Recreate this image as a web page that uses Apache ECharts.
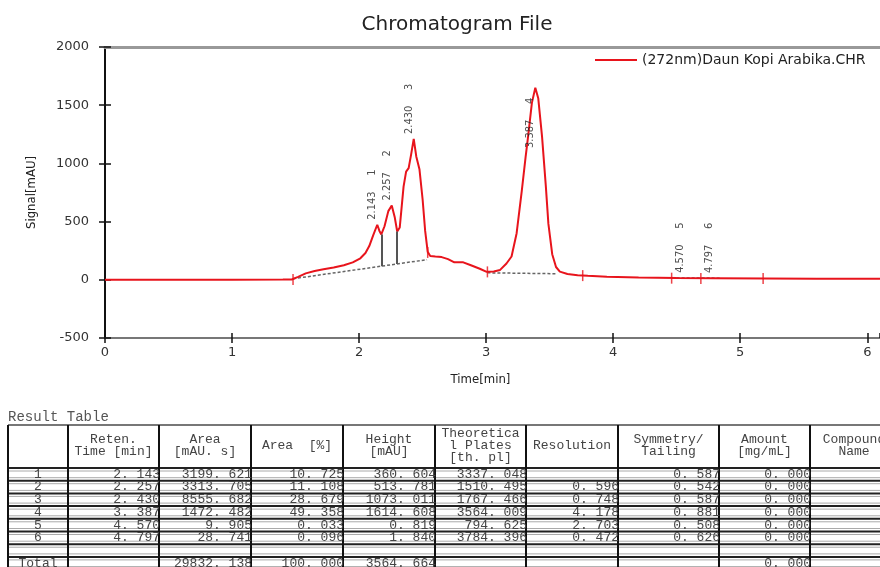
<!DOCTYPE html>
<html>
<head>
<meta charset="utf-8">
<title>Chromatogram File</title>
<script src="https://cdn.jsdelivr.net/npm/echarts@6/dist/echarts.min.js"></script>
<style>
  html, body { margin: 0; padding: 0; background: #fff; }
  #chart { width: 880px; height: 567px; }
</style>
</head>
<body>
<div id="chart"></div>
<script>
const traceName = '(272nm)Daun Kopi Arabika.CHR';

// signal trace: [time min, signal mAU]
const signal = [
  [0, 0], [0.5, 0], [1.0, 1], [1.40, 2], [1.47, 3],
  [1.52, 25], [1.58, 55], [1.65, 75], [1.72, 90], [1.80, 105], [1.88, 125],
  [1.95, 150], [2.01, 185], [2.05, 230], [2.08, 290], [2.11, 380], [2.143, 473],
  [2.16, 420], [2.175, 390], [2.20, 460], [2.23, 590], [2.257, 639], [2.28, 540],
  [2.30, 415], [2.32, 450], [2.35, 800], [2.37, 930], [2.39, 960], [2.41, 1080],
  [2.43, 1210], [2.45, 1060], [2.475, 950], [2.50, 690], [2.52, 420], [2.54, 240],
  [2.56, 205], [2.60, 200], [2.65, 195], [2.70, 178], [2.75, 150], [2.82, 150],
  [2.88, 125], [2.95, 95], [3.00, 70], [3.06, 72], [3.11, 85], [3.16, 140],
  [3.20, 200], [3.24, 400], [3.28, 760], [3.31, 1050], [3.33, 1230], [3.36, 1520],
  [3.387, 1650], [3.41, 1560], [3.44, 1230], [3.47, 800], [3.49, 480], [3.52, 220],
  [3.55, 110], [3.58, 70], [3.64, 50], [3.72, 40], [3.80, 35], [3.95, 26],
  [4.2, 20], [4.5, 16], [4.8, 14], [5.2, 12], [5.6, 10], [6.1, 8]
];

// integration baselines and peak split lines
const baseA = [[1.48, 9], [2.535, 173]];
const baseB = [[3.01, 60], [3.56, 52]];
const baseC = [[4.46, 17], [4.84, 14]];
const splits = [[[2.175, 117], [2.175, 390]], [[2.30, 136], [2.30, 415]]];
const eventMarks = [[1.48, 3], [2.54, 235], [3.01, 68], [3.76, 36], [4.46, 14], [4.69, 12], [5.18, 12]];

// peaks
const peakNo = ['1', '2', '3', '4', '5', '6'];
const peakRT = [2.143, 2.257, 2.430, 3.387, 4.570, 4.797];
const peakTop = [473, 639, 1210, 1650, 17, 15];

// result table
const tableHead = ['', 'Reten.\nTime [min]', 'Area\n[mAU. s]', 'Area  [%]', 'Height\n[mAU]',
  'Theoretica\nl Plates\n[th. pl]', 'Resolution', 'Symmetry/\nTailing', 'Amount\n[mg/mL]', 'Compound\nName'];
const rowNo = ['1', '2', '3', '4', '5', '6', 'Total'];
const retTime = ['2. 143', '2. 257', '2. 430', '3. 387', '4. 570', '4. 797', ''];
const area = ['3199. 621', '3313. 705', '8555. 682', '1472. 482', '9. 905', '28. 741', '29832. 138'];
const areaPct = ['10. 725', '11. 108', '28. 679', '49. 358', '0. 033', '0. 096', '100. 000'];
const height = ['360. 604', '513. 781', '1073. 011', '1614. 608', '0. 819', '1. 840', '3564. 664'];
const plates = ['3337. 048', '1510. 495', '1767. 466', '3564. 009', '794. 625', '3784. 396', ''];
const resolution = ['', '0. 596', '0. 748', '4. 178', '2. 703', '0. 472', ''];
const symmetry = ['0. 587', '0. 542', '0. 587', '0. 881', '0. 508', '0. 626', ''];
const amount = ['0. 000', '0. 000', '0. 000', '0. 000', '0. 000', '0. 000', '0. 000'];
const compound = ['', '', '', '', '', '', ''];

const tableCols = [rowNo, retTime, area, areaPct, height, plates, resolution, symmetry, amount, compound];

const colEdge = [8, 68, 159, 251, 343, 435, 526, 618, 719, 810, 900];
const tTop = 425, tHeadBottom = 468, rowH = 12.7;
const monoFont = '"Liberation Mono", "DejaVu Sans Mono", monospace';

// the total row sits one slot lower, below an empty row
const rowSlot = r => (r < rowNo.length - 1 ? r : r + 1);

const buildTable = () => {
  const g = [];
  g.push({ type: 'text', left: 8, top: 410, style: { text: 'Result Table', font: '14px ' + monoFont, fill: '#555' } });
  const slots = rowNo.length + 1;
  const bottom = tHeadBottom + rowH * slots;
  g.push({ type: 'line', shape: { x1: 8, y1: tTop, x2: 880, y2: tTop }, style: { stroke: '#777', lineWidth: 2 } });
  for (let r = 0; r <= slots; r++) {
    const y = tHeadBottom + r * rowH;
    g.push({ type: 'line', shape: { x1: 8, y1: y, x2: 880, y2: y }, style: { stroke: '#222', lineWidth: 2 } });
    if (r < slots) {
      g.push({ type: 'line', shape: { x1: 8, y1: y + 3, x2: 880, y2: y + 3 }, style: { stroke: '#aaa', lineWidth: 1 } });
    }
    if (r > 0) {
      g.push({ type: 'line', shape: { x1: 8, y1: y - 3, x2: 880, y2: y - 3 }, style: { stroke: '#aaa', lineWidth: 1 } });
    }
  }
  colEdge.slice(0, -1).forEach(x => {
    g.push({ type: 'line', shape: { x1: x, y1: tTop, x2: x, y2: bottom + 4 }, style: { stroke: '#111', lineWidth: 2 } });
  });
  tableHead.forEach((h, c) => {
    const cx = (colEdge[c] + colEdge[c + 1]) / 2;
    g.push({
      type: 'text', x: c === 9 ? 854 : cx, y: (tTop + tHeadBottom) / 2 - 1,
      style: { text: h, font: '13px ' + monoFont, fill: '#444', align: 'center', verticalAlign: 'middle', lineHeight: 12 }
    });
  });
  tableCols.forEach((col, c) => {
    col.forEach((v, r) => {
      const y = tHeadBottom + (rowSlot(r) + 0.5) * rowH;
      const first = c === 0;
      g.push({
        type: 'text',
        x: first ? (colEdge[0] + colEdge[1]) / 2 : colEdge[c + 1] + 1,
        y: y,
        style: { text: v, font: '13px ' + monoFont, fill: '#444', align: first ? 'center' : 'right', verticalAlign: 'middle' }
      });
    });
  });
  return g;
};

const chart = echarts.init(document.getElementById('chart'));

const axisFont = { fontFamily: 'DejaVu Sans', fontSize: 13, color: '#333' };
const narrowFont = '"Liberation Sans Narrow", "DejaVu Sans Condensed", "Liberation Sans", sans-serif';

chart.setOption({
  animation: false,
  title: {
    text: 'Chromatogram File', left: 452, top: 10, textAlign: 'center',
    textStyle: { fontFamily: 'DejaVu Sans', fontSize: 20, fontWeight: 'normal', color: '#222' }
  },
  legend: {
    data: [traceName], left: 590, top: 48, icon: 'rect', itemWidth: 42, itemHeight: 2, itemGap: 6,
    textStyle: { fontFamily: 'DejaVu Sans', fontSize: 14, color: '#222' }
  },
  grid: { left: 105, right: 0, top: 47, bottom: 229 },
  xAxis: [{
    type: 'value', min: 0, max: 6.1, interval: 1,
    name: 'Time[min]', nameLocation: 'middle', nameGap: 35,
    nameTextStyle: { fontFamily: narrowFont, fontSize: 13, color: '#222', padding: [0, 24, 0, 0] },
    axisLine: { onZero: false, lineStyle: { color: '#777', width: 2 } },
    axisTick: { length: 5, lineStyle: { color: '#111', width: 1.5 } },
    axisLabel: { ...axisFont, margin: 8, showMaxLabel: false, formatter: v => Number.isInteger(v) ? String(v) : '' },
    splitLine: { show: false }
  }, {
    type: 'value', min: 0, max: 6.1, interval: 1, position: 'bottom',
    axisLine: { show: false, onZero: false },
    axisTick: { inside: true, length: 5, lineStyle: { color: '#111', width: 1.5 } },
    axisLabel: { show: false }, splitLine: { show: false }
  }, {
    type: 'value', min: 0, max: 6.1, position: 'top',
    axisLine: { onZero: false, lineStyle: { color: '#999', width: 3 } },
    axisTick: { show: false }, axisLabel: { show: false }, splitLine: { show: false }
  }],
  yAxis: [{
    type: 'value', min: -500, max: 2000, interval: 500,
    name: 'Signal[mAU]', nameLocation: 'middle', nameGap: 67,
    nameTextStyle: { fontFamily: narrowFont, fontSize: 13, color: '#222' },
    axisLine: { onZero: false, lineStyle: { color: '#111', width: 2 } },
    axisTick: { length: 6, lineStyle: { color: '#111', width: 1.5 } },
    axisLabel: { ...axisFont, margin: 16, formatter: v => String(v) },
    splitLine: { show: false }
  }, {
    type: 'value', min: -500, max: 2000, interval: 500, position: 'left',
    axisLine: { show: false, onZero: false },
    axisTick: { inside: true, length: 6, lineStyle: { color: '#111', width: 1.5 } },
    axisLabel: { show: false }, splitLine: { show: false }
  }],
  series: [{
    name: traceName, type: 'line', data: signal, showSymbol: false, z: 4,
    lineStyle: { color: '#e8141c', width: 2 }, itemStyle: { color: '#e8141c' }
  }, {
    type: 'line', data: baseA, showSymbol: false, z: 3,
    lineStyle: { color: '#666', width: 1.5, type: [3, 2] },
    markLine: {
      silent: true, symbol: 'none', label: { show: false },
      lineStyle: { color: '#555', width: 2, type: 'solid' },
      data: splits.map(s => [{ coord: s[0] }, { coord: s[1] }])
    }
  }, {
    type: 'line', data: baseB, showSymbol: false, z: 3,
    lineStyle: { color: '#666', width: 1.5, type: [3, 2] }
  }, {
    type: 'line', data: baseC, showSymbol: false, z: 3,
    lineStyle: { color: '#666', width: 1.5, type: [3, 2] }
  }, {
    type: 'scatter', data: eventMarks, symbol: 'rect', symbolSize: [1.5, 11], z: 5,
    itemStyle: { color: '#e8141c' }
  }, {
    type: 'scatter', symbolSize: 0, z: 6,
    // a label that would run past the top of the plot is dropped lower, as in the source software
    data: peakRT.map((t, i) => [t, peakTop[i] > 1500 ? 1090 : peakTop[i]]),
    label: {
      show: true, position: 'top', distance: 5, rotate: 90,
      align: 'left', verticalAlign: 'bottom', lineHeight: 10,
      fontFamily: narrowFont, fontSize: 11, color: '#222',
      formatter: p => peakRT[p.dataIndex].toFixed(3) + '     ' + peakNo[p.dataIndex]
    }
  }],
  graphic: buildTable()
});
</script>
</body>
</html>
